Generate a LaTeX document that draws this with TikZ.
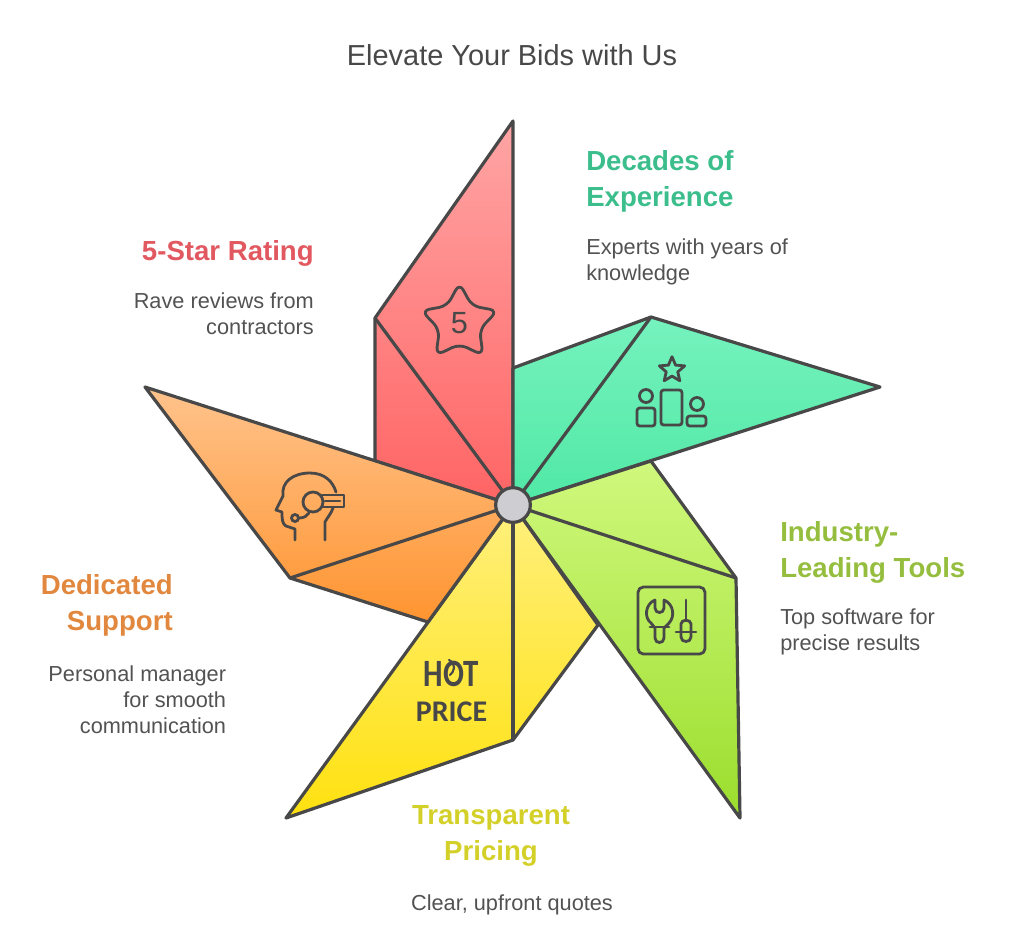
\documentclass[tikz,border=0pt]{standalone}
\usepackage{fontspec}
\setmainfont{Liberation Sans}
\newfontfamily\pricefont{Carlito}
\usetikzlibrary{positioning,shapes.geometric}
\definecolor{linec}{RGB}{72,72,72}
\definecolor{bodyc}{RGB}{82,82,82}
\definecolor{ratec}{RGB}{225,88,96}
\definecolor{decadec}{RGB}{60,190,140}
\definecolor{toolc}{RGB}{150,190,62}
\definecolor{pricec}{RGB}{212,208,42}
\definecolor{supportc}{RGB}{226,136,62}
\tikzset{petal/.style={draw=linec,line width=2.4pt,line join=round},
  spoke/.style={draw=linec,line width=2.4pt},
  glyph/.style={draw=linec,line width=2.1pt,line join=round,line cap=round},
  head/.style={font=\fontsize{20.7}{27}\selectfont\bfseries,inner sep=0pt},
  body/.style={font=\fontsize{16.3}{19.5}\selectfont,text=bodyc,inner sep=0pt}}
\begin{document}
\begin{tikzpicture}[x=0.75pt,y=-0.75pt]
    \useasboundingbox (0,0) rectangle (1024,940);
    \coordinate (hub) at (513,505);
    \node[font=\fontsize{21.7}{26}\selectfont,text=linec] (title) at (512,55) {Elevate Your Bids with Us};
    \path[petal,top color={rgb,255:red,255;green,165;blue,165},bottom color={rgb,255:red,255;green,100;blue,100}]
        (hub) -- (375,461) -- (375,318) coordinate (rateknee) -- (513,121) -- cycle;
    \path[petal,top color={rgb,255:red,118;green,242;blue,190},bottom color={rgb,255:red,80;green,232;blue,165}]
        (hub) -- (513,368) -- (651,317) coordinate (decadeknee) -- (880,387) -- cycle;
    \path[petal,top color={rgb,255:red,208;green,248;blue,125},bottom color={rgb,255:red,155;green,222;blue,45}]
        (hub) -- (651,461) -- (736,578) coordinate (toolknee) -- (740,818) -- cycle;
    \path[petal,top color={rgb,255:red,255;green,240;blue,125},bottom color={rgb,255:red,255;green,225;blue,15}]
        (hub) -- (598,625) -- (513,740) coordinate (priceknee) -- (286,818) -- cycle;
    \path[petal,top color={rgb,255:red,255;green,195;blue,140},bottom color={rgb,255:red,255;green,148;blue,48}]
        (hub) -- (428,622) -- (290,578) coordinate (supportknee) -- (145,387) -- cycle;
    \draw[spoke] (hub) -- (rateknee);
    \draw[spoke] (hub) -- (decadeknee);
    \draw[spoke] (hub) -- (toolknee);
    \draw[spoke] (hub) -- (priceknee);
    \draw[spoke] (hub) -- (supportknee);
    \node[circle,draw=linec,line width=2.4pt,fill={rgb,255:red,206;green,206;blue,210},minimum size=26pt,inner sep=0pt] (center) at (hub) {};
    % star
    \node[star,star points=5,star point ratio=1.9,glyph,rounded corners=6pt,minimum size=60pt,inner sep=0pt,
        font=\fontsize{23}{23}\selectfont,text=linec] (five) at (459.5,323) {5};
    % podium
    \node[star,star points=5,star point ratio=2.2,glyph,minimum size=20pt,inner sep=0pt] (topstar) at (672,370) {};
    \draw[glyph,rounded corners=2pt] (637,408) rectangle (655,426);
    \draw[glyph,rounded corners=2pt] (661,390) rectangle (682,425);
    \draw[glyph,rounded corners=2pt] (687,416) rectangle (706,426);
    \draw[glyph] (646,396) circle (6.5);
    \draw[glyph] (697,404) circle (6.5);
    % headset
    \draw[glyph] (295,540) -- (295,529) -- (286,526) .. controls (282,524) and (282,518) .. (282,512) -- (276,510)
        -- (283,496) .. controls (281,482) and (293,473) .. (310,473) .. controls (325,473) and (333,482) .. (336,492);
    \draw[glyph] (325,540) -- (325,522) .. controls (327,518) and (331,514) .. (333,508);
    \draw[glyph] (313,502) circle (10);
    \draw[glyph] (322,495) -- (344,495) -- (344,507) -- (322,507);
    \draw[glyph] (325,501) -- (340,501);
    \draw[glyph] (295,518) circle (3.5);
    \draw[glyph] (299,518) .. controls (304,518) and (307,516) .. (309,513);
    % tools
    \draw[glyph,rounded corners=4pt] (638,587) rectangle (705,654);
    \draw[glyph] (655,600) .. controls (645,604) and (644,618) .. (651,623) -- (655,628) -- (655,638)
        .. controls (655,644) and (664,644) .. (664,638) -- (664,628) -- (669,623)
        .. controls (675,617) and (674,604) .. (664,600) -- (664,608) .. controls (664,614) and (655,614) .. (655,608) -- cycle;
    \draw[glyph] (650,627) -- (669,627);
    \draw[glyph] (686,600) -- (686,620);
    \draw[glyph] (681,632) -- (681,624) .. controls (681,619) and (691,619) .. (691,624) -- (691,632)
        -- (691,637) .. controls (691,643) and (681,643) .. (681,637) -- cycle;
    \draw[glyph] (676,632) -- (696,632);
    % price tag text
    \node[font=\pricefont\bfseries\fontsize{29}{29}\selectfont,text=linec,xscale=.8,inner sep=0pt] (hot) at (451.5,674) {HOT};
    \node[font=\pricefont\bfseries\fontsize{22.5}{23}\selectfont,text=linec,inner sep=0pt,below=11pt of hot.south] (price) {PRICE};
    \draw[glyph,line width=1.6pt] (449,660) .. controls (457,664) and (454,672) .. (450,675);
    % labels
    \node[head,text=ratec,anchor=east] (ratehead) at (314,253.5) {5-Star Rating};
    \node[body,align=right,below=19pt of ratehead.south east,anchor=north east] (ratetext) {Rave reviews from\\contractors};
    \node[head,text=decadec,align=left,anchor=west] (decadehead) at (586,181.5) {Decades of\\Experience};
    \node[body,align=left,below=19.5pt of decadehead.south west,anchor=north west] (decadetext) {Experts with years of\\knowledge};
    \node[head,text=toolc,align=left,anchor=west] (toolhead) at (780,552.5) {Industry-\\Leading Tools};
    \node[body,align=left,below=18.5pt of toolhead.south west,anchor=north west] (tooltext) {Top software for\\precise results};
    \node[head,text=pricec,align=center] (pricehead) at (491,835.5) {Transparent\\Pricing};
    \node[body,below=21.5pt of pricehead.south,anchor=north,xshift=15.75pt] (pricetext) {Clear, upfront quotes};
    \node[head,text=supportc,align=right,anchor=east] (supporthead) at (173,605.5) {Dedicated\\Support};
    \node[body,align=right,below=22pt of supporthead.south east,anchor=north east,xshift=40pt] (supporttext) {Personal manager\\for smooth\\communication};
\end{tikzpicture}
\end{document}
